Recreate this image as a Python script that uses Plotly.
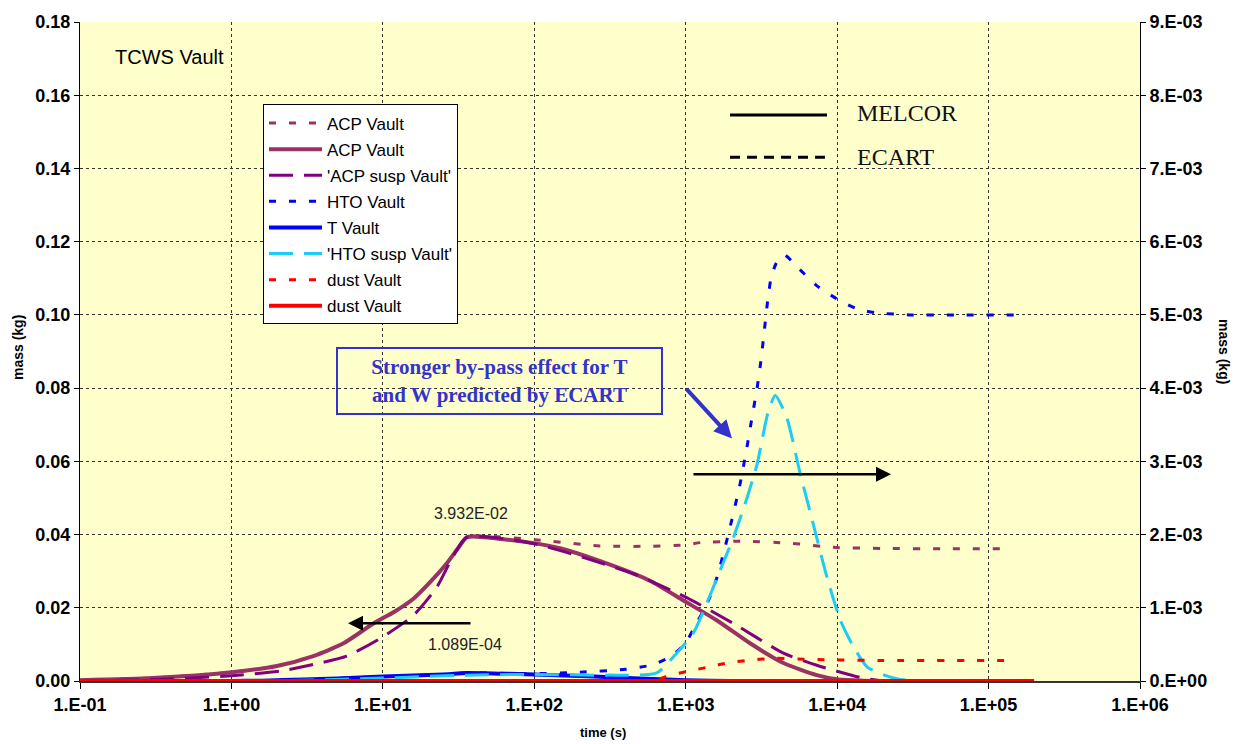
import plotly.graph_objects as go

# ---- series data (time in s, mass in kg) ----
# ACP, left axis
acp_ecart_t = [0.1, 0.3, 1, 2, 3.47, 5.5, 8.66, 12, 15.85, 20, 26.3, 31, 36, 100, 270, 600, 1000, 1250, 2300, 5000, 9400, 20000, 50000, 140000]
acp_ecart_v = [0.0002, 0.0008, 0.0024, 0.0041, 0.0068, 0.0103, 0.0157, 0.019, 0.0224, 0.0265, 0.032, 0.036, 0.03932, 0.0386, 0.0369, 0.0368, 0.0372, 0.0378, 0.0382, 0.0376, 0.0365, 0.0362, 0.0361, 0.0361]

acp_melcor_t = [0.1, 0.3, 1, 2, 3.47, 5.5, 8.66, 12, 15.85, 20, 26.3, 31, 36, 60, 94, 150, 270, 580, 965, 1600, 2660, 4420, 7330, 9930, 15000, 20000]
acp_melcor_v = [0.0002, 0.0008, 0.0024, 0.0041, 0.0068, 0.0103, 0.0157, 0.019, 0.0224, 0.0265, 0.032, 0.036, 0.03932, 0.0388, 0.0378, 0.0362, 0.0328, 0.0274, 0.022, 0.0166, 0.0103, 0.0049, 0.0016, 0.0005, 0.0001, 0.0]

acp_susp_t = [0.1, 0.3, 1, 2.1, 3.47, 5.77, 9.57, 15.9, 22.7, 29.2, 36, 100, 450, 1000, 2070, 4420, 7330, 14100, 20000]
acp_susp_v = [0.0001, 0.0004, 0.0014, 0.0027, 0.0045, 0.0068, 0.0116, 0.0179, 0.0256, 0.0342, 0.03932, 0.0375, 0.0293, 0.0229, 0.0157, 0.0076, 0.0043, 0.001, 0.0]

# HTO / T / dust, right axis
hto_t = [0.1, 1, 1.6, 3, 5, 10, 16, 25, 36, 60, 100, 200, 400, 600, 790, 990, 1180, 1380, 1600, 1910, 2290, 2540, 2740, 2960, 3150, 3310, 3480, 3660, 3950, 4460, 5660, 7330, 9930, 13600, 18000, 30000, 60000, 150000]
hto_v = [0.0, 0.0, 0.000005, 0.00002, 0.000035, 0.00006, 0.000075, 0.00009, 0.000109, 0.000105, 0.0001, 0.00012, 0.00016, 0.00022, 0.00033, 0.00051, 0.00079, 0.00105, 0.0014, 0.002, 0.0027, 0.0032, 0.0036, 0.004, 0.0044, 0.0048, 0.0052, 0.0055, 0.0057, 0.00582, 0.00562, 0.0054, 0.00522, 0.00508, 0.00503, 0.005, 0.005, 0.005]

t_vault_t = [0.1, 1, 1.6, 3, 5, 10, 16, 25, 36, 60, 100, 250, 550, 1000, 2000, 20000]
t_vault_v = [0.0, 0.0, 0.000005, 0.00002, 0.000035, 0.00006, 0.000075, 0.00009, 0.0001089, 0.0001, 0.00009, 0.00006, 0.00003, 0.00001, 0.0, 0.0]

hto_susp_t = [0.1, 1, 3, 10, 36, 100, 300, 643, 871, 1120, 1377, 1686, 2066, 2540, 2960, 3480, 3900, 4660, 5660, 6960, 8560, 10500, 12800, 15800, 20500, 26000, 40000]
hto_susp_v = [0.0, 0.0, 0.00001, 0.00004, 0.00008, 0.00009, 0.00008, 0.00011, 0.00038, 0.00065, 0.00106, 0.00151, 0.00196, 0.0025, 0.00296, 0.00365, 0.0039, 0.00359, 0.00286, 0.00214, 0.00142, 0.00083, 0.00047, 0.00019, 0.00008, 0.00002, 0.0]

dust_ecart_t = [0.1, 600, 786, 1030, 1400, 1930, 2700, 3800, 5500, 9000, 20000, 150000]
dust_ecart_v = [0.0, 0.0, 0.00008, 0.00013, 0.00019, 0.00025, 0.000285, 0.00031, 0.0003, 0.00029, 0.00028, 0.00028]

dust_melcor_t = [0.1, 1, 10, 100, 1000, 10000, 100000, 200000]
dust_melcor_v = [0.0, 0.0, 0.0, 0.0, 0.0, 0.0, 0.0, 0.0]

# ---- axis ticks ----
x_tickvals = [0.1, 1, 10, 100, 1000, 10000, 100000, 1000000]
x_ticktext = ["1.E-01", "1.E+00", "1.E+01", "1.E+02", "1.E+03", "1.E+04", "1.E+05", "1.E+06"]
y_tickvals = [0, 0.02, 0.04, 0.06, 0.08, 0.10, 0.12, 0.14, 0.16, 0.18]
y_ticktext = ["0.00", "0.02", "0.04", "0.06", "0.08", "0.10", "0.12", "0.14", "0.16", "0.18"]
y2_tickvals = [0, 0.001, 0.002, 0.003, 0.004, 0.005, 0.006, 0.007, 0.008, 0.009]
y2_ticktext = ["0.E+00", "1.E-03", "2.E-03", "3.E-03", "4.E-03", "5.E-03", "6.E-03", "7.E-03", "8.E-03", "9.E-03"]

PLUM = "#993366"
PURPLE = "#800080"
BLUE = "#0000FF"
CYAN = "#1ECBF5"
RED = "#FF0000"
SANS = "Liberation Sans, Arial, sans-serif"
SERIF = "Liberation Serif, Times New Roman, serif"

SHORT = "7px,13px"
LONG = "24px,11px"

fig = go.Figure()

series = [
    ("ACP Vault", acp_ecart_t, acp_ecart_v, PLUM, 3, SHORT, "y"),
    ("ACP Vault", acp_melcor_t, acp_melcor_v, PLUM, 4, "solid", "y"),
    ("'ACP susp Vault'", acp_susp_t, acp_susp_v, PURPLE, 3, LONG, "y"),
    ("HTO Vault", hto_t, hto_v, BLUE, 3, SHORT, "y2"),
    ("T Vault", t_vault_t, t_vault_v, BLUE, 4, "solid", "y2"),
    ("'HTO susp Vault'", hto_susp_t, hto_susp_v, CYAN, 3, LONG, "y2"),
    ("dust Vault", dust_ecart_t, dust_ecart_v, RED, 3, SHORT, "y2"),
    ("dust Vault", dust_melcor_t, dust_melcor_v, RED, 4, "solid", "y2"),
]
for i, (name, t, v, color, width, dash, yax) in enumerate(series):
    fig.add_trace(go.Scatter(
        x=t, y=v, name=name, mode="lines", yaxis=yax,
        line=dict(color=color, width=width, dash=dash, shape="spline", smoothing=0.6),
        legendgroup=f"g{i}",
    ))

axis_font = dict(family=SANS, size=18, color="black", weight="bold")

fig.update_layout(
    width=1242, height=744,
    margin=dict(l=80, r=102, t=18, b=63),
    paper_bgcolor="white",
    plot_bgcolor="#FFFFCC",
    showlegend=True,
    legend=dict(
        x=(263 - 80) / 1060, y=(681 - 101) / 663, xanchor="left", yanchor="top",
        bgcolor="white", bordercolor="black", borderwidth=1,
        font=dict(family=SANS, size=17, color="black"),
        tracegroupgap=1, itemwidth=53,
    ),
    xaxis=dict(
        type="log", range=[-1, 6],
        tickvals=x_tickvals, ticktext=x_ticktext, tickfont=axis_font,
        ticks="outside", ticklen=6, tickcolor="black", tickwidth=1,
        showline=True, linecolor="#333333", linewidth=2,
        showgrid=True, gridcolor="#333333", gridwidth=1, griddash="dot",
        zeroline=False, layer="below traces",
    ),
    yaxis=dict(
        range=[0, 0.18], tickvals=y_tickvals, ticktext=y_ticktext, tickfont=axis_font,
        ticks="outside", ticklen=5, tickcolor="black",
        showline=True, linecolor="black", linewidth=1,
        showgrid=True, gridcolor="#333333", gridwidth=1, griddash="dot",
        zeroline=False, layer="below traces",
    ),
    yaxis2=dict(
        range=[0, 0.009], overlaying="y", side="right",
        tickvals=y2_tickvals, ticktext=y2_ticktext, tickfont=axis_font,
        ticks="outside", ticklen=5, tickcolor="black",
        showline=True, linecolor="black", linewidth=1,
        showgrid=False, zeroline=False, layer="below traces",
    ),
)

def px(x):
    return (x - 80) / 1060

def py(y):
    return (681 - y) / 663

annotations = [
    dict(x=px(18), y=py(346), text="mass (kg)", textangle=-90,
         font=dict(family=SANS, size=14, color="black", weight="bold")),
    dict(x=px(1224), y=py(349), text="mass (kg)", textangle=90,
         font=dict(family=SANS, size=14, color="black", weight="bold")),
    dict(x=px(603), y=py(733), text="time (s)",
         font=dict(family=SANS, size=13, color="black", weight="bold")),
    dict(x=px(113), y=py(53), text="TCWS Vault", xanchor="left",
         font=dict(family=SANS, size=20, color="black")),
    dict(x=px(471), y=py(512), text="3.932E-02",
         font=dict(family=SANS, size=16, color="#222222")),
    dict(x=px(465), y=py(644), text="1.089E-04",
         font=dict(family=SANS, size=16, color="#222222")),
    dict(x=px(855), y=py(110), text="MELCOR", xanchor="left",
         font=dict(family=SERIF, size=24, color="#111111")),
    dict(x=px(855), y=py(154), text="ECART", xanchor="left",
         font=dict(family=SERIF, size=24, color="#111111")),
    dict(x=px(499.5), y=py(379.5), width=323, height=64,
         text="<b>Stronger by-pass effect for T<br>and W predicted by ECART</b>",
         font=dict(family=SERIF, size=21, color="#3333CC"),
         bordercolor="#3333CC", borderwidth=2, borderpad=0, align="center"),
]
for a in annotations:
    a.setdefault("xanchor", "center")
    a.setdefault("yanchor", "middle")

# arrows
annotations += [
    dict(x=px(732), y=py(437), ax=685 - 732, ay=386 - 437, text="",
         showarrow=True, arrowhead=2, arrowsize=0.9, arrowwidth=4, arrowcolor="#3333CC"),
    dict(x=px(348), y=py(623), ax=472 - 348, ay=0, text="",
         showarrow=True, arrowhead=2, arrowsize=1.2, arrowwidth=2.5, arrowcolor="black"),
    dict(x=px(891), y=py(473), ax=692 - 891, ay=0, text="",
         showarrow=True, arrowhead=2, arrowsize=1.2, arrowwidth=2.5, arrowcolor="black"),
]
for a in annotations:
    a.setdefault("xref", "paper")
    a.setdefault("yref", "paper")
    a.setdefault("showarrow", False)
    fig.add_annotation(**a)

# MELCOR / ECART line-style key
fig.add_shape(type="line", xref="paper", yref="paper",
              x0=px(730), x1=px(827), y0=py(111.5), y1=py(111.5),
              line=dict(color="black", width=3))
fig.add_shape(type="line", xref="paper", yref="paper",
              x0=px(730), x1=px(827), y0=py(154), y1=py(154),
              line=dict(color="black", width=3, dash="10px,7px"))

fig.write_html("out.html")
